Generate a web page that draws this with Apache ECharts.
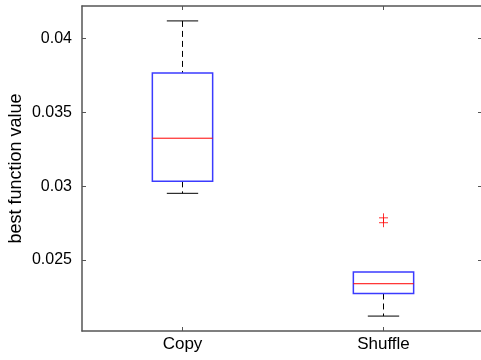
<!DOCTYPE html>
<html>
<head>
<meta charset="utf-8">
<script src="https://cdn.jsdelivr.net/npm/echarts@6/dist/echarts.min.js"></script>
<style>
  html, body { margin: 0; padding: 0; background: #fff; }
  #chart { width: 481px; height: 360px; }
</style>
</head>
<body>
<div id="chart"></div>
<script>
// box stats
var categories = ['Copy', 'Shuffle'];
var lowWhisker = [0.02952, 0.02121];
var q1 = [0.03033, 0.02274];
var medians = [0.03325, 0.0234];
var q3 = [0.03767, 0.02419];
var highWhisker = [0.04119, 0.02419];
var outlierCat = ['Shuffle', 'Shuffle'];
var outlierVal = [0.02786, 0.02753];
var yTicks = [0.025, 0.03, 0.035, 0.04];

var FONT = "'Liberation Sans', Arial, sans-serif";
var AXIS_COLOR = '#555';

var boxData = categories.map(function (c, i) {
  return [i, lowWhisker[i], q1[i], medians[i], q3[i], highWhisker[i]];
});
var outlierData = outlierCat.map(function (c, i) {
  return [c, outlierVal[i]];
});

function renderBox(params, api) {
  var idx = api.value(0);
  var pLow = api.coord([idx, api.value(1)]);
  var pQ1 = api.coord([idx, api.value(2)]);
  var pMed = api.coord([idx, api.value(3)]);
  var pQ3 = api.coord([idx, api.value(4)]);
  var pHigh = api.coord([idx, api.value(5)]);
  var band = api.size([1, 0])[0];
  var half = band * 0.15;
  var cap = band * 0.078;
  var x = pMed[0];
  var dashed = { stroke: '#000', lineWidth: 1, lineDash: [6, 4] };
  var solid = { stroke: '#000', lineWidth: 1 };
  var children = [];
  if (pHigh[1] < pQ3[1]) {
    children.push({ type: 'line', shape: { x1: x, y1: pHigh[1], x2: x, y2: pQ3[1] }, style: dashed });
    children.push({ type: 'line', shape: { x1: x - cap, y1: pHigh[1], x2: x + cap, y2: pHigh[1] }, style: solid });
  }
  if (pLow[1] > pQ1[1]) {
    children.push({ type: 'line', shape: { x1: x, y1: pQ1[1], x2: x, y2: pLow[1] }, style: dashed });
    children.push({ type: 'line', shape: { x1: x - cap, y1: pLow[1], x2: x + cap, y2: pLow[1] }, style: solid });
  }
  children.push({
    type: 'rect',
    shape: { x: x - half, y: pQ3[1], width: half * 2, height: pQ1[1] - pQ3[1] },
    style: { fill: 'none', stroke: '#3b3bff', lineWidth: 1.5 }
  });
  children.push({
    type: 'line',
    shape: { x1: x - half, y1: pMed[1], x2: x + half, y2: pMed[1] },
    style: { stroke: '#ff0000', lineWidth: 1 }
  });
  return { type: 'group', children: children };
}

var chart = echarts.init(document.getElementById('chart'));

var xBase = {
  type: 'category',
  data: categories,
  boundaryGap: true,
  axisLine: { show: true, lineStyle: { color: AXIS_COLOR, width: 1.5 } },
  axisTick: { show: true, inside: true, length: 4, alignWithLabel: true, lineStyle: { color: AXIS_COLOR } },
  splitLine: { show: false }
};
var yBase = {
  type: 'value',
  min: 0.0202,
  max: 0.0422,
  axisLine: { show: true, lineStyle: { color: AXIS_COLOR, width: 1.5 } },
  axisTick: { show: true, inside: true, length: 4, customValues: yTicks, lineStyle: { color: AXIS_COLOR } },
  splitLine: { show: false }
};

chart.setOption({
  animation: false,
  backgroundColor: '#fff',
  grid: { left: 82, top: 6, width: 402, height: 325, outerBoundsMode: 'none', containLabel: false },
  xAxis: [
    Object.assign({}, xBase, {
      position: 'bottom',
      axisLabel: { show: true, color: '#000', fontSize: 17, fontFamily: FONT, margin: 5 }
    }),
    Object.assign({}, xBase, { position: 'top', axisLabel: { show: false } })
  ],
  yAxis: [
    Object.assign({}, yBase, {
      position: 'left',
      name: 'best function value',
      nameLocation: 'middle',
      nameGap: 57,
      nameMoveOverlap: false,
      nameTextStyle: { color: '#000', fontSize: 18, fontFamily: FONT },
      axisLabel: {
        show: true, color: '#000', fontSize: 16, fontFamily: FONT, margin: 10,
        customValues: yTicks,
        formatter: function (v) { return String(+v.toFixed(3)); }
      }
    }),
    Object.assign({}, yBase, {
      position: 'right',
      axisLabel: { show: false },
      axisTick: { show: true, inside: true, length: 6, customValues: yTicks, lineStyle: { color: AXIS_COLOR } }
    })
  ],
  series: [
    {
      type: 'custom',
      xAxisIndex: 0,
      yAxisIndex: 0,
      renderItem: renderBox,
      encode: { x: 0, y: [1, 2, 3, 4, 5] },
      data: boxData,
      z: 3
    },
    {
      type: 'scatter',
      xAxisIndex: 0,
      yAxisIndex: 0,
      symbol: 'path://M5 0 L5 10 M0 5 L10 5',
      symbolSize: 9,
      itemStyle: { color: 'none', borderColor: '#ff0000', borderWidth: 1 },
      data: outlierData,
      z: 4
    }
  ]
});
</script>
</body>
</html>
